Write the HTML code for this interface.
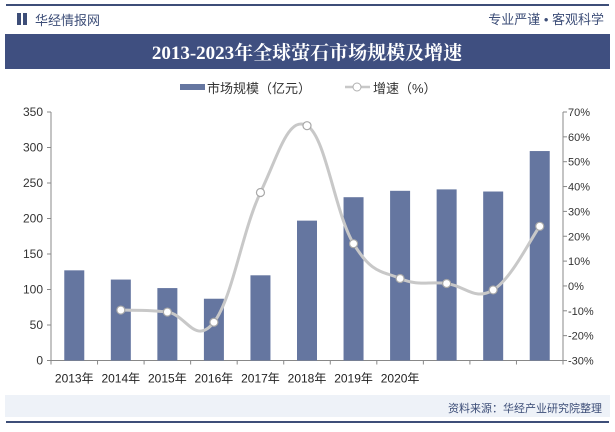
<!DOCTYPE html>
<html><head><meta charset="utf-8"><style>
body{margin:0;width:615px;height:427px;overflow:hidden;background:#fff;font-family:"Liberation Sans","Noto Sans CJK SC",sans-serif;}
</style></head><body>
<svg width="615" height="427" xmlns="http://www.w3.org/2000/svg" font-family="Liberation Sans, Noto Sans CJK SC, sans-serif">
<rect x="6" y="4" width="603" height="2" fill="#3d4e78"/>
<g>
<rect x="17" y="13" width="4" height="12" fill="#3d4e78"/><rect x="23" y="13" width="4" height="12" fill="#3d4e78"/>
<text x="35" y="25" font-size="13" fill="#3d4e78">华经情报网</text></g>
<text x="604" y="24" font-size="13" fill="#3d4e78" text-anchor="end">专业严谨 • 客观科学</text>
<rect x="5" y="34" width="605" height="35" fill="#3f4f80"/>
<text x="307" y="59" font-size="19" font-weight="bold" fill="#fff" text-anchor="middle" font-family="Liberation Serif, Noto Serif CJK SC, serif">2013-2023年全球萤石市场规模及增速</text>
<g font-size="13" fill="#333">
<rect x="180" y="84" width="25" height="6" fill="#6576a0"/><text x="207" y="93">市场规模（亿元）</text>
<line x1="345" y1="87" x2="370" y2="87" stroke="#c8c8c8" stroke-width="2.5"/><circle cx="357" cy="87" r="4" fill="#fff" stroke="#b0b0b0"/>
<text x="373" y="93">增速（%）</text></g>
<g id="chart"></g>
<rect x="5" y="395" width="605" height="22" fill="#eef2f8"/>
<text x="602" y="412" font-size="11" fill="#3d4e78" text-anchor="end">资料来源：华经产业研究院整理</text>
<rect x="6" y="421" width="603" height="2" fill="#3d4e78"/>
</svg>
<script>
const categories=["2013年","2014年","2015年","2016年","2017年","2018年","2019年","2020年","2021年","2022年","2023年"];
const marketSize=[127,114,102,87,120,197,230,239,241,238,295];
const growth=[null,-9.7,-10.5,-14.6,37.6,64.5,17,3,1,-1.6,24];
const leftTicks=[0,50,100,150,200,250,300,350];
const rightTicks=[-30,-20,-10,0,10,20,30,40,50,60,70];
const visibleLabels=8;
const NS="http://www.w3.org/2000/svg";
const g=document.getElementById('chart');
const x0=51,x1=563,yTop=112,yBot=360.5;
const band=(x1-x0)/categories.length;
const xC=i=>x0+band*(i+0.5);
const yL=v=>yBot-(v/350)*(yBot-yTop);
const yR=v=>yBot-((v+30)/100)*(yBot-yTop);
function mk(t,a,txt){const e=document.createElementNS(NS,t);for(const k in a)e.setAttribute(k,a[k]);if(txt!=null)e.textContent=txt;g.appendChild(e);return e;}
let e;
e=mk('line',{x1:x0,y1:yTop,x2:x0,y2:yBot,stroke:'#888'});


e=mk('line',{x1:x0,y1:yBot,x2:x1,y2:yBot,stroke:'#888'});


e=mk('line',{x1:x1,y1:yTop,x2:x1,y2:yBot,stroke:'#888'});


leftTicks.forEach(v=>{mk('line',{x1:x0-4,y1:yL(v),x2:x0,y2:yL(v),stroke:'#888'});
e=mk('text',{x:x0-8,y:yL(v)+4,'font-size':12,fill:'#333','text-anchor':'end'},v);

});
rightTicks.forEach(v=>{mk('line',{x1:x1,y1:yR(v),x2:x1+4,y2:yR(v),stroke:'#888'});
e=mk('text',{x:x1+5,y:yR(v)+4,'font-size':11,fill:'#333'},v+'%');

});
for(let i=0;i<=categories.length;i++)mk('line',{x1:x0+band*i,y1:yBot,x2:x0+band*i,y2:yBot+4,stroke:'#888'});
marketSize.forEach((v,i)=>{e=mk('rect',{x:xC(i)-10,y:yL(v),width:20,height:yBot-yL(v),fill:'#6576a0'});

});
categories.forEach((c,i)=>{if(i<visibleLabels){e=mk('text',{x:xC(i),y:yBot+22,'font-size':12,fill:'#222','text-anchor':'middle'},c);

}});
const pts=[];growth.forEach((v,i)=>{if(v!=null)pts.push([xC(i),yR(v)]);});
let d='M'+pts[0][0]+','+pts[0][1];
for(let i=0;i<pts.length-1;i++){const p0=pts[i-1]||pts[i],p1=pts[i],p2=pts[i+1],p3=pts[i+2]||p2;const t=0.2;
d+=` C${p1[0]+(p2[0]-p0[0])*t},${p1[1]+(p2[1]-p0[1])*t} ${p2[0]-(p3[0]-p1[0])*t},${p2[1]-(p3[1]-p1[1])*t} ${p2[0]},${p2[1]}`;}
e=mk('path',{d:d,fill:'none',stroke:'#c8c8c8','stroke-width':3});


pts.forEach(p=>{e=mk('circle',{cx:p[0],cy:p[1],r:4,fill:'#fff',stroke:'#a8a8a8','stroke-width':1.2});

});
</script>
</body></html>
